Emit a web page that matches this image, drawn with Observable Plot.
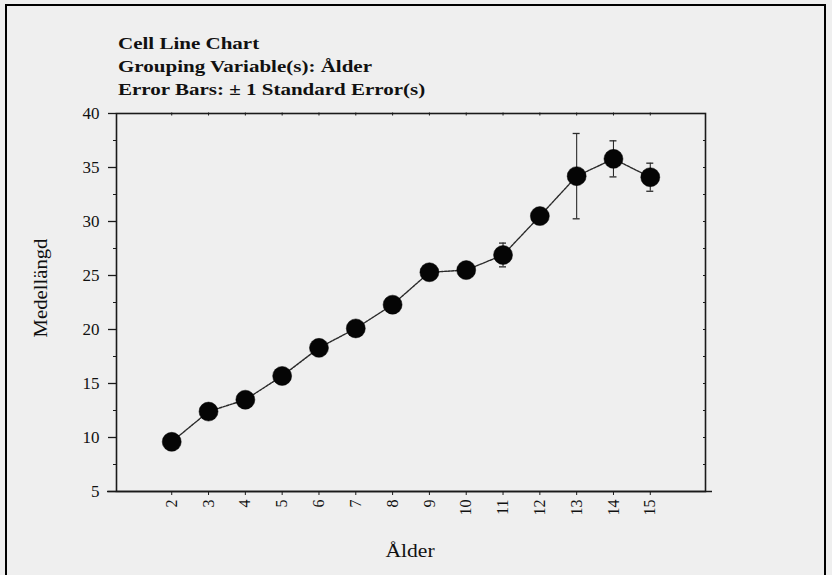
<!DOCTYPE html>
<html>
<head>
<meta charset="utf-8">
<script src="https://cdn.jsdelivr.net/npm/d3@7"></script>
<script src="https://cdn.jsdelivr.net/npm/@observablehq/plot@0.6"></script>
<style>
  html, body { margin: 0; padding: 0; background: #efefef; }
  #wrap { position: relative; width: 832px; height: 575px; overflow: hidden; font-family: "Liberation Serif", "Times New Roman", serif; color: #111; }
  #border { position: absolute; left: 5px; top: 4px; width: 821px; height: 620px; border: 2px solid #000; box-sizing: border-box; }
  #title { position: absolute; left: 118px; top: 32px; font-size: 17.5px; font-weight: bold; line-height: 23px; transform: scaleX(1.2); transform-origin: left top; white-space: nowrap; }
  .axlab { position: absolute; font-size: 18px; white-space: nowrap; }
  #ylab { left: 41px; top: 288px; transform: translate(-50%, -50%) rotate(-90deg) scaleX(1.15); }
  #xlab { left: 410px; top: 551px; transform: translate(-50%, -50%) scaleX(1.2); }
  #chart { position: absolute; left: 0; top: 0; }
</style>
</head>
<body>
<div id="wrap">
  <div id="border"></div>
  <div id="chart"></div>
  <div id="title">
    <div>Cell Line Chart</div>
    <div>Grouping Variable(s): Ålder</div>
    <div>Error Bars: ± 1 Standard Error(s)</div>
  </div>
  <div class="axlab" id="ylab">Medellängd</div>
  <div class="axlab" id="xlab">Ålder</div>
</div>
<script>
// Data
const ages  = [2, 3, 4, 5, 6, 7, 8, 9, 10, 11, 12, 13, 14, 15];
const means = [9.6, 12.4, 13.5, 15.7, 18.3, 20.1, 22.3, 25.3, 25.5, 26.9, 30.5, 34.2, 35.8, 34.1];
const stdErrors = [0.5, 0.6, 0.5, 0.6, 0.6, 0.5, 0.6, 0.6, 0.6, 1.1, 0.7, 3.95, 1.67, 1.3];

// Tick values
const yTicks = [5, 10, 15, 20, 25, 30, 35, 40];
const yMinorTicks = [7.5, 12.5, 17.5, 22.5, 27.5, 32.5, 37.5];
const yRightTicks = [7.5, 10, 12.5, 15, 17.5, 20, 22.5, 25, 27.5, 30, 32.5, 35, 37.5];
const xTicks = ages;

const data = ages.map((a, i) => ({age: a, mean: means[i], lo: means[i] - stdErrors[i], hi: means[i] + stdErrors[i]}));

const ink = "#1a1a1a";
const font = "Liberation Serif, Times New Roman, serif";

const chart = Plot.plot({
  width: 832,
  height: 575,
  marginLeft: 116,
  marginRight: 127,
  marginTop: 113,
  marginBottom: 84,
  style: {background: "transparent", fontFamily: font, color: "#111"},
  x: {type: "linear", domain: [0.5, 16.5], label: null},
  y: {type: "linear", domain: [5, 40], label: null},
  marks: [
    Plot.frame({stroke: ink, strokeWidth: 1.6}),
    Plot.ruleY([5], {stroke: ink, strokeWidth: 1.6, insetLeft: -9, insetRight: -7}),
    Plot.axisY({anchor: "left", ticks: yTicks, tickSize: 8, tickPadding: 9, fontSize: 17, stroke: ink, strokeWidth: 1.3, label: null}),
    Plot.axisY({anchor: "left", ticks: yMinorTicks, tickSize: 3, tickFormat: () => "", stroke: ink, label: null}),
    Plot.axisY({anchor: "right", ticks: yRightTicks, tickSize: 3, dx: -3, tickFormat: () => "", stroke: ink, label: null}),
    Plot.axisX({anchor: "bottom", ticks: xTicks, tickSize: 4, tickPadding: 4, tickRotate: -90, fontSize: 16, stroke: ink, label: null}),
    Plot.axisX({anchor: "top", ticks: xTicks, tickSize: 3, dy: 1.5, tickFormat: () => "", stroke: ink, label: null}),
    Plot.line(data, {x: "age", y: "mean", stroke: "#2a2a2a", strokeWidth: 1.4, strokeDasharray: "2.5 1.2"}),
    Plot.ruleX(data, {x: "age", y1: "lo", y2: "hi", stroke: "#2a2a2a", strokeWidth: 1.1}),
    Plot.ruleY(data, {y: "hi", x1: "age", x2: "age", insetLeft: -3.5, insetRight: -3.5, stroke: "#2a2a2a", strokeWidth: 1.3}),
    Plot.ruleY(data, {y: "lo", x1: "age", x2: "age", insetLeft: -3.5, insetRight: -3.5, stroke: "#2a2a2a", strokeWidth: 1.3}),
    Plot.dot(data, {x: "age", y: "mean", r: 9.5, fill: "#050505", stroke: "#050505", strokeWidth: 0.5})
  ]
});
document.getElementById("chart").appendChild(chart);
</script>
</body>
</html>
